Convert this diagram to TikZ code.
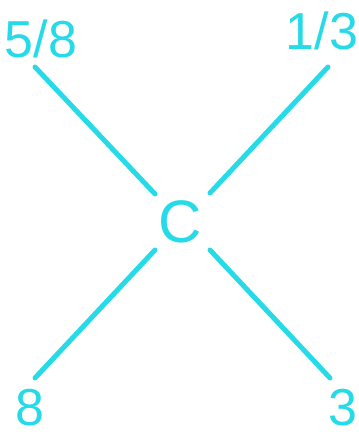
\documentclass[tikz,border=0pt]{standalone}
\usepackage{fontspec}
\setmainfont{Liberation Sans}
\definecolor{cy}{RGB}{38,218,232}
\begin{document}
\begin{tikzpicture}[x=1pt,y=1pt,
  lbl/.style={text=cy,font=\fontsize{52}{52}\selectfont,inner sep=0pt,anchor=center},
  bond/.style={draw=cy,line width=5pt,line cap=round}]
\useasboundingbox (0,0) rectangle (359,437);
\node[lbl] (tl) at (41,398) {5/8};
\node[lbl] (tr) at (322,406) {1/3};
\node[lbl,font=\fontsize{60}{60}\selectfont] (c) at (180,215) {C};
\node[lbl] (bl) at (30,29) {8};
\node[lbl] (br) at (343,29) {3};
\coordinate (a1) at (35,370);
\coordinate (a2) at (155,243);
\coordinate (b1) at (328,370);
\coordinate (b2) at (210,244);
\coordinate (c1) at (155,187);
\coordinate (c2) at (35,59);
\coordinate (d1) at (210,187);
\coordinate (d2) at (330,59);
\draw[bond] (a1) -- (a2);
\draw[bond] (b1) -- (b2);
\draw[bond] (c1) -- (c2);
\draw[bond] (d1) -- (d2);
\end{tikzpicture}
\end{document}
